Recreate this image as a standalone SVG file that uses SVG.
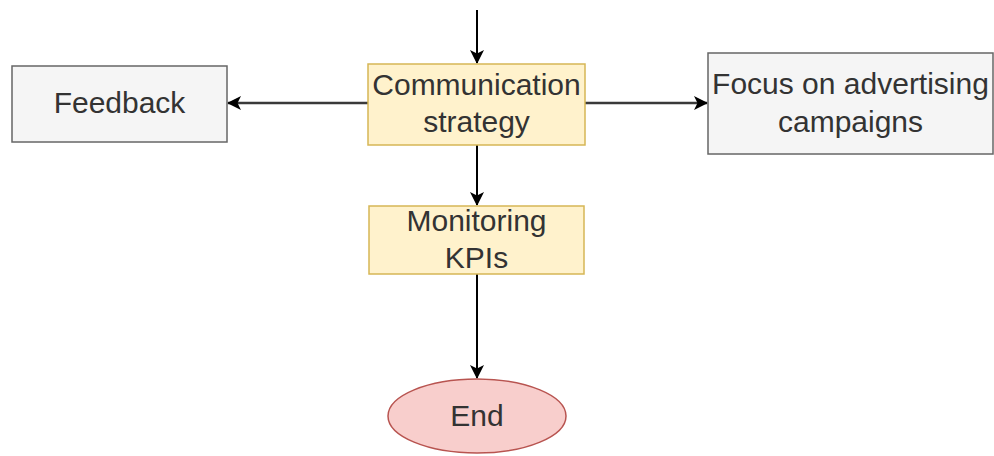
<svg xmlns="http://www.w3.org/2000/svg" width="994" height="456" viewBox="0 0 994 456">
  <style>
    .lbl { font-family: "Liberation Sans", Arial, sans-serif; font-size: 30px; text-anchor: middle; fill: #333333; }
    .grey { fill: #f5f5f5; stroke: #666666; stroke-width: 1.5; }
    .yellow { fill: #fff2cc; stroke: #d6b656; stroke-width: 1.5; }
    .red { fill: #f8cecc; stroke: #b85450; stroke-width: 1.5; }
    .edge { fill: none; stroke: #000000; stroke-width: 2; }
    .edge-h { fill: none; stroke: #3a3a3a; stroke-width: 2.5; }
  </style>
  <defs>
    <marker id="arrow" viewBox="0 0 14 14" refX="13" refY="7" markerWidth="14" markerHeight="14" markerUnits="userSpaceOnUse" orient="auto">
      <path d="M0,0 L14,7 L0,14 L3.5,7 Z" fill="#000000"/>
    </marker>
  </defs>
  <rect width="994" height="456" fill="#ffffff"/>

  <g id="connectors">
    <line class="edge" x1="477" y1="10" x2="477" y2="63" marker-end="url(#arrow)"/>
    <line class="edge-h" x1="368" y1="103" x2="228" y2="103" marker-end="url(#arrow)"/>
    <line class="edge-h" x1="585" y1="103" x2="707" y2="103" marker-end="url(#arrow)"/>
    <line class="edge" x1="477" y1="145" x2="477" y2="205" marker-end="url(#arrow)"/>
    <line class="edge" x1="477" y1="274" x2="477" y2="378" marker-end="url(#arrow)"/>
  </g>

  <g id="communication-strategy">
    <rect class="yellow" x="368" y="64" width="217" height="81"/>
    <text class="lbl" x="476.5" y="95">Communication</text>
    <text class="lbl" x="476.5" y="132">strategy</text>
  </g>

  <g id="feedback">
    <rect class="grey" x="12" y="66" width="215" height="76"/>
    <text class="lbl" x="119.5" y="113" fill="#404040">Feedback</text>
  </g>

  <g id="advertising-campaigns">
    <rect class="grey" x="708" y="53" width="285" height="101"/>
    <text class="lbl" x="850.5" y="94">Focus on advertising</text>
    <text class="lbl" x="850.5" y="132">campaigns</text>
  </g>

  <g id="monitoring-kpis">
    <rect class="yellow" x="369" y="206" width="215" height="68"/>
    <text class="lbl" x="476.5" y="231">Monitoring</text>
    <text class="lbl" x="476.5" y="268">KPIs</text>
  </g>

  <g id="end">
    <ellipse class="red" cx="477" cy="416" rx="89" ry="37"/>
    <text class="lbl" x="477" y="426">End</text>
  </g>
</svg>
